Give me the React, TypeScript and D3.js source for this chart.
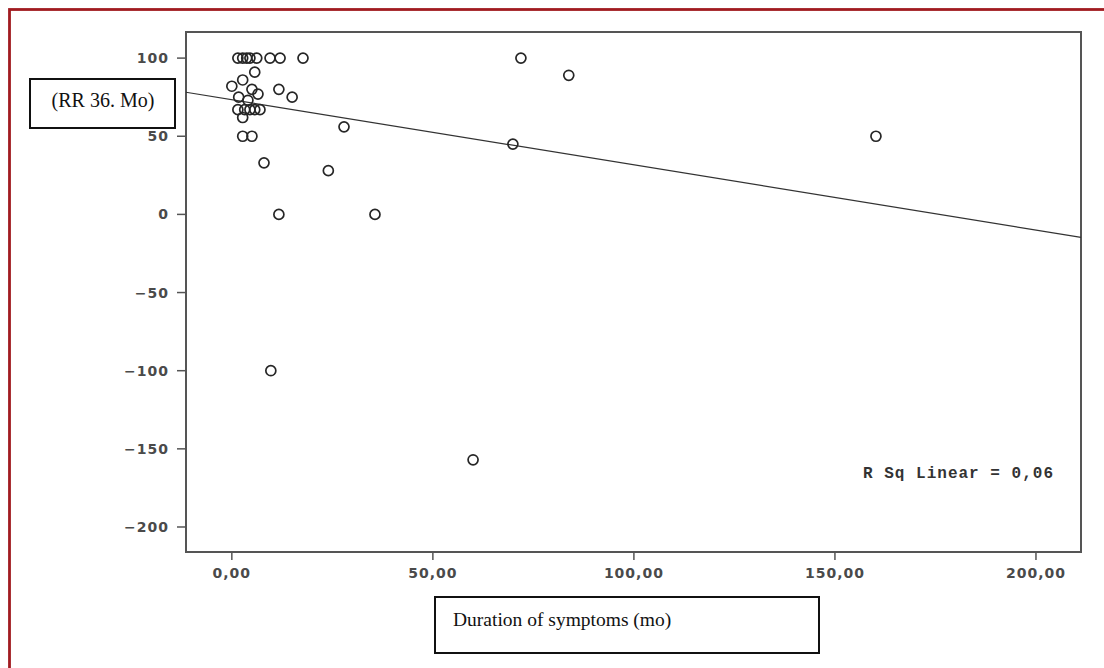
import { useRef, useEffect } from "react";
import * as d3 from "d3";

// Duration of symptoms (months) vs RR 36. Mo
const durations = [
  1.5, 2.7, 3.7, 4.5, 6.2, 9.5, 12, 17.7, 71.9,
  5.7, 83.8, 2.7, 0, 5, 6.5, 11.7, 15, 1.7, 4,
  1.5, 3.2, 4.5, 5.7, 7, 2.7, 2.7, 5, 8, 27.9, 24,
  11.7, 35.6, 69.9, 160.2, 9.7, 60,
];
const rrValues = [
  100, 100, 100, 100, 100, 100, 100, 100, 100,
  91, 89, 86, 82, 80, 77, 80, 75, 75, 73,
  67, 67, 67, 67, 67, 62, 50, 50, 33, 56, 28,
  0, 0, 45, 50, -100, -157,
];

// fitted line as printed on the chart
const fitIntercept = 73.4;
const fitSlope = -0.417;
const rSqLabel = "R Sq Linear = 0,06";

const xTicks = [0, 50, 100, 150, 200];
const yTicks = [100, 50, 0, -50, -100, -150, -200];

const yTitle = "(RR 36. Mo)";
const xTitle = "Duration of symptoms (mo)";

export default function App() {
  const svgRef = useRef<SVGSVGElement>(null);

  useEffect(() => {
    const width = 1104;
    const height = 668;
    const frame = { left: 186, top: 32, right: 1081, bottom: 552 };

    const svg = d3.select(svgRef.current);
    svg.selectAll("*").remove();
    svg.attr("width", width).attr("height", height);

    const x = d3.scaleLinear().domain([-11.4, 211.2]).range([frame.left, frame.right]);
    const y = d3.scaleLinear().domain([-216, 116.7]).range([frame.bottom, frame.top]);

    // red page border
    svg.append("rect")
      .attr("x", 9.5)
      .attr("y", 9.5)
      .attr("width", width + 20)
      .attr("height", height + 20)
      .attr("fill", "none")
      .attr("stroke", "#a11b20")
      .attr("stroke-width", 2.8);

    // plot frame
    svg.append("rect")
      .attr("x", frame.left)
      .attr("y", frame.top)
      .attr("width", frame.right - frame.left)
      .attr("height", frame.bottom - frame.top)
      .attr("fill", "none")
      .attr("stroke", "#555")
      .attr("stroke-width", 2);

    const tickFont = "'DejaVu Sans', Verdana, sans-serif";

    // y ticks
    const yAxis = svg.append("g");
    yTicks.forEach((t) => {
      yAxis.append("line")
        .attr("x1", frame.left - 9)
        .attr("x2", frame.left)
        .attr("y1", y(t))
        .attr("y2", y(t))
        .attr("stroke", "#555")
        .attr("stroke-width", 1.5);
      yAxis.append("text")
        .attr("x", frame.left - 17)
        .attr("y", y(t))
        .attr("dy", "0.36em")
        .attr("text-anchor", "end")
        .attr("fill", "#4a4a4a")
        .attr("font-family", tickFont)
        .attr("font-weight", "bold")
        .attr("font-size", "14px")
        .attr("letter-spacing", "1px")
        .text(String(t).replace("-", "\u2212"));
    });

    // x ticks
    const xAxis = svg.append("g");
    xTicks.forEach((t) => {
      xAxis.append("line")
        .attr("x1", x(t))
        .attr("x2", x(t))
        .attr("y1", frame.bottom)
        .attr("y2", frame.bottom + 8)
        .attr("stroke", "#555")
        .attr("stroke-width", 1.5);
      xAxis.append("text")
        .attr("x", x(t))
        .attr("y", 578)
        .attr("text-anchor", "middle")
        .attr("fill", "#4a4a4a")
        .attr("font-family", tickFont)
        .attr("font-weight", "bold")
        .attr("font-size", "14px")
        .attr("letter-spacing", "1px")
        .text(d3.format(".2f")(t).replace(".", ","));
    });

    // fit line
    const [x0, x1] = x.domain();
    svg.append("line")
      .attr("x1", x(x0))
      .attr("y1", y(fitIntercept + fitSlope * x0))
      .attr("x2", x(x1))
      .attr("y2", y(fitIntercept + fitSlope * x1))
      .attr("stroke", "#333")
      .attr("stroke-width", 1.2);

    // points
    svg.append("g")
      .selectAll("circle")
      .data(durations.map((d, i) => [d, rrValues[i]]))
      .enter()
      .append("circle")
      .attr("cx", (d) => x(d[0]))
      .attr("cy", (d) => y(d[1]))
      .attr("r", 5)
      .attr("fill", "none")
      .attr("stroke", "#262626")
      .attr("stroke-width", 1.7);

    svg.append("text")
      .attr("x", 863)
      .attr("y", 478)
      .attr("fill", "#333")
      .attr("font-family", "'Liberation Mono', 'Courier New', monospace")
      .attr("font-weight", "bold")
      .attr("font-size", "16px")
      .attr("textLength", 190)
      .attr("lengthAdjust", "spacing")
      .text(rSqLabel);

    // y title box
    svg.append("rect")
      .attr("x", 30)
      .attr("y", 79)
      .attr("width", 145)
      .attr("height", 49)
      .attr("fill", "#fff")
      .attr("stroke", "#111")
      .attr("stroke-width", 2);
    svg.append("text")
      .attr("x", 103)
      .attr("y", 107)
      .attr("text-anchor", "middle")
      .attr("fill", "#111")
      .attr("font-family", "'Liberation Serif', 'Times New Roman', serif")
      .attr("font-size", "20px")
      .text(yTitle);

    // x title box
    svg.append("rect")
      .attr("x", 435)
      .attr("y", 597)
      .attr("width", 384)
      .attr("height", 56)
      .attr("fill", "#fff")
      .attr("stroke", "#111")
      .attr("stroke-width", 2);
    svg.append("text")
      .attr("x", 453)
      .attr("y", 626)
      .attr("fill", "#111")
      .attr("font-family", "'Liberation Serif', 'Times New Roman', serif")
      .attr("font-size", "19.5px")
      .text(xTitle);
  }, []);

  return (
    <div style={{ position: "absolute", left: 0, top: 0, background: "#fff" }}>
      <svg ref={svgRef} style={{ display: "block" }} />
    </div>
  );
}
